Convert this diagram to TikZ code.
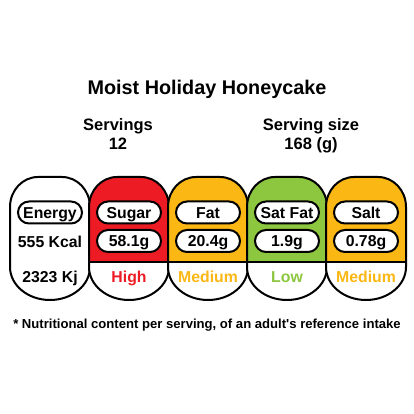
\documentclass[tikz,border=0pt]{standalone}
\usepackage{fontspec}
\newfontfamily\labelfont{Liberation Sans}
\definecolor{lblred}{HTML}{ED1C24}
\definecolor{lblamber}{HTML}{FBB714}
\definecolor{lblgreen}{HTML}{8DC63F}
\usetikzlibrary{shapes.misc}

% outline of one label column, centred at x = #1
\newcommand\panelpath[1]{(#1-40,150) -- (#1-40,207) arc[start angle=180, end angle=90, x radius=28, y radius=30]
    -- (#1+12,237) arc[start angle=90, end angle=0, x radius=28, y radius=30]
    -- (#1+40,147) arc[start angle=0, end angle=-180, x radius=40, y radius=33] -- cycle}
\newcommand\foodpanel[2]{%
    \fill[white] \panelpath{#1};
    \begin{scope}
        \clip \panelpath{#1};
        \fill[#2] (#1-42,152) rectangle (#1+42,240);
        \draw (#1-42,152) -- (#1+42,152);
    \end{scope}
    \draw \panelpath{#1};}

\begin{document}
\begin{tikzpicture}[x=1pt, y=1pt, line width=2pt,
    every node/.style={font=\labelfont\bfseries\fontsize{15.8}{18}\selectfont, text height=11.4pt, text depth=0pt},
    pill/.style={draw, fill=white, rounded rectangle, minimum width=64pt, minimum height=22pt, inner sep=0pt}]
    \useasboundingbox (0,0) rectangle (414,414);

    % Heading
    \node[font=\labelfont\bfseries\fontsize{19.8}{22}\selectfont, text height=14.2pt] (title) at (207,327) {Moist Holiday Honeycake};
    \node[font=\labelfont\bfseries\fontsize{16.5}{19}\selectfont, text height=11.9pt] (servings) at (118,289) {Servings};
    \node[font=\labelfont\bfseries\fontsize{16.5}{19}\selectfont, text height=11.9pt] (servingsnum) at (118,270) {12};
    \node[font=\labelfont\bfseries\fontsize{16.5}{19}\selectfont, text height=11.9pt] (size) at (311,289) {Serving size};
    \node[font=\labelfont\bfseries\fontsize{16.5}{19}\selectfont, text height=11.9pt] (sizenum) at (311,270) {168 (g)};

    % Energy
    \filldraw[fill=white] \panelpath{50};
    \node[pill] (energytag) at (50,201.5) {Energy};
    \node (kcal) at (50,172) {555 Kcal};
    \node (kj) at (50,137) {2323 Kj};

    % Sugar
    \foodpanel{129}{lblred}
    \node[pill] (sugartag) at (129,201.5) {Sugar};
    \node[pill] (sugarval) at (129,173) {58.1g};
    \node[text=lblred] (sugarlvl) at (129,137) {High};

    % Fat
    \foodpanel{208}{lblamber}
    \node[pill] (fattag) at (208,201.5) {Fat};
    \node[pill] (fatval) at (208,173) {20.4g};
    \node[text=lblamber] (fatlvl) at (208,137) {Medium};

    % Sat fat
    \foodpanel{287}{lblgreen}
    \node[pill] (satfattag) at (287,201.5) {Sat Fat};
    \node[pill] (satfatval) at (287,173) {1.9g};
    \node[text=lblgreen] (satfatlvl) at (287,137) {Low};

    % Salt
    \foodpanel{366}{lblamber}
    \node[pill] (salttag) at (366,201.5) {Salt};
    \node[pill] (saltval) at (366,173) {0.78g};
    \node[text=lblamber] (saltlvl) at (366,137) {Medium};

    % Footnote
    \node[font=\labelfont\bfseries\fontsize{13.1}{15}\selectfont, text height=9.4pt] (note) at (207,90) {* Nutritional content per serving, of an adult's reference intake};
\end{tikzpicture}
\end{document}
